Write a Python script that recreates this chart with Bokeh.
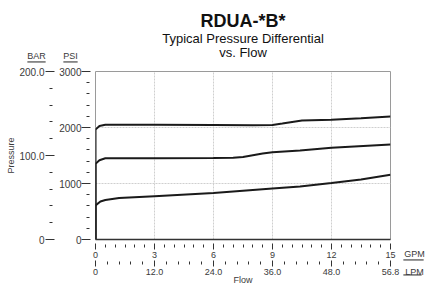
from bokeh.plotting import figure
from bokeh.models import (Range1d, LinearAxis, FixedTicker, Label, Title)
from bokeh.embed import file_html
from bokeh.resources import INLINE

# ---- data ----
top_flow = [0, 0, 0.2, 0.5, 3, 6, 8, 9, 9.5, 10, 10.5, 12, 13.5, 15]
top_psi = [0, 1964, 2025, 2048, 2048, 2045, 2042, 2046, 2070, 2100, 2125, 2140, 2165, 2196]

mid_flow = [0, 0, 0.2, 0.5, 3, 6, 7, 7.5, 8, 8.5, 9, 10.4, 12, 15]
mid_psi = [0, 1352, 1415, 1450, 1452, 1455, 1460, 1475, 1505, 1535, 1559, 1589, 1637, 1696]

low_flow = [0, 0, 0.25, 0.5, 1.2, 3, 6, 9, 10.4, 12, 13.5, 15]
low_psi = [0, 607, 680, 705, 740, 773, 830, 911, 946, 1008, 1071, 1155]

gpm_ticks = [0, 3, 6, 9, 12, 15]
gpm_minor = [i * 0.5 for i in range(31)]
lpm_labels = ["0", "12.0", "24.0", "36.0", "48.0", "56.8"]
lpm_minor = [i * 0.6 for i in range(26)]
psi_ticks = [0, 1000, 2000, 3000]
psi_minor = [i * 200 for i in range(16)]
bar_ticks = [0, 100, 200]
bar_labels = ["0", "100.0", "200.0"]
bar_minor = [i * 20 for i in range(11)]

FONT = "Liberation Sans"
TXT = "#3a3a3a"

p = figure(width=426, height=287, output_backend="svg", toolbar_location=None,
           x_range=Range1d(0, 15), y_range=Range1d(0, 3000),
           min_border_left=95, min_border_right=36, min_border_top=71,
           min_border_bottom=48)
p.background_fill_color = "white"
p.border_fill_color = "white"
p.outline_line_color = "#9a9a9a"
p.outline_line_width = 1


def head(text, x, y, **kw):
    return Label(x=x, y=y, x_units="screen", y_units="screen", text=text,
                 text_font=FONT, text_font_size="9px", text_color=TXT,
                 text_align="center", text_baseline="bottom", **kw)


# underlines of the unit headings: thin filled label boxes in the top panel
# (canvas centre x, canvas y, half width)
underlines = [(36, 62, 9), (70, 62, 7), (413, 260, 10), (412, 275, 9)]
for i, (cx, cy, hw) in enumerate(underlines):
    p.add_layout(Label(x=cx - 95, y=(71 - i) - cy, x_units="screen", y_units="screen",
                       text=" ", text_font_size="1px", text_align="center",
                       text_baseline="bottom",
                       padding=dict(left=hw, right=hw, top=0, bottom=0),
                       background_fill_color=TXT, background_fill_alpha=1.0), "above")

# "BAR" heading (top panel rows are not clipped by the frame)
p.add_layout(head("BAR", -59, 7), "above")

# titles
for txt, size, style, so in [("vs. Flow", "13px", "normal", -5),
                             ("Typical Pressure Differential", "13px", "normal", 0),
                             ("RDUA-*B*", "18px", "bold", -5)]:
    t = Title(text=txt, align="center", text_font=FONT, text_font_size=size,
              text_font_style=style, text_color="#111111", standoff=so)
    p.add_layout(t, "above")

# "PSI" heading and the GPM / LPM unit names live in the right panel
p.add_layout(head("PSI", -320, 179), "right")
p.add_layout(head("GPM\nLPM", 9, -37, text_line_height=1.75), "right")

# grids
p.xgrid.ticker = FixedTicker(ticks=gpm_ticks[1:-1])
p.ygrid.ticker = FixedTicker(ticks=psi_ticks[1:-1])
for g in (p.xgrid, p.ygrid):
    g.grid_line_color = "#cfcfcf"
    g.grid_line_dash = "2 1"
    g.grid_line_width = 1

# PSI axis (default left)
ya = p.yaxis[0]
ya.ticker = FixedTicker(ticks=psi_ticks, minor_ticks=psi_minor)
ya.axis_line_color = None
ya.major_tick_in = -5
ya.major_tick_out = 14
ya.minor_tick_in = -6
ya.minor_tick_out = 9
ya.major_tick_line_color = "#333333"
ya.minor_tick_line_color = "#333333"
ya.major_label_standoff = 0
ya.major_label_text_font = FONT
ya.major_label_text_font_size = "10px"
ya.major_label_text_color = TXT

# BAR axis
p.extra_y_ranges = {"bar": Range1d(0, 200)}
ba = LinearAxis(y_range_name="bar", axis_label="Pressure")
ba.ticker = FixedTicker(ticks=bar_ticks, minor_ticks=bar_minor)
ba.major_label_overrides = {k: v for k, v in zip(bar_ticks, bar_labels)}
ba.axis_line_color = None
ba.major_tick_in = -2
ba.major_tick_out = 11
ba.minor_tick_in = -4
ba.minor_tick_out = 7
ba.major_tick_line_color = "#333333"
ba.minor_tick_line_color = "#333333"
ba.major_label_standoff = 1
ba.major_label_text_font = FONT
ba.major_label_text_font_size = "10px"
ba.major_label_text_color = TXT
ba.axis_label_text_font = FONT
ba.axis_label_text_font_size = "9px"
ba.axis_label_text_font_style = "normal"
ba.axis_label_text_color = TXT
ba.axis_label_standoff = 0
p.add_layout(ba, "left")

# GPM axis (default below)
xa = p.xaxis[0]
xa.ticker = FixedTicker(ticks=gpm_ticks, minor_ticks=gpm_minor)
xa.axis_line_color = "#333333"
xa.axis_line_width = 1.5
xa.major_tick_in = -4
xa.major_tick_out = 10
xa.minor_tick_in = -5
xa.minor_tick_out = 8
xa.major_tick_line_color = "#333333"
xa.minor_tick_line_color = "#333333"
xa.major_label_standoff = 2
xa.major_label_text_font = FONT
xa.major_label_text_font_size = "9px"
xa.major_label_text_color = TXT

# LPM axis
la = LinearAxis(axis_label="Flow")
la.ticker = FixedTicker(ticks=gpm_ticks, minor_ticks=lpm_minor)
la.major_label_overrides = {k: v for k, v in zip(gpm_ticks, lpm_labels)}
la.axis_line_color = None
la.major_tick_in = 0
la.major_tick_out = 6
la.minor_tick_in = -1
la.minor_tick_out = 4
la.major_tick_line_color = "#333333"
la.minor_tick_line_color = "#333333"
la.major_label_standoff = 2
la.major_label_text_font = FONT
la.major_label_text_font_size = "9px"
la.major_label_text_color = TXT
la.axis_label_text_font = FONT
la.axis_label_text_font_size = "9px"
la.axis_label_text_font_style = "normal"
la.axis_label_text_color = TXT
la.axis_label_standoff = -3
p.add_layout(la, "below")

# curves
for fx, fy in [(low_flow, low_psi), (mid_flow, mid_psi), (top_flow, top_psi)]:
    p.line(fx, fy, line_color="#1a1a1a", line_width=2)

open("out.html", "w").write(file_html(p, INLINE))
